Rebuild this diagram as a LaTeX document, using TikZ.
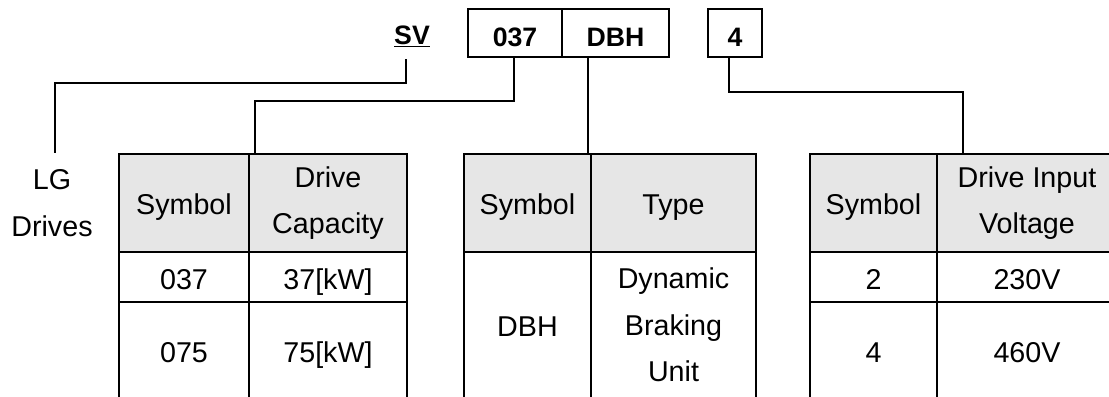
\documentclass[tikz,border=0pt]{standalone}
\usepackage{fontspec}
\setmainfont{Liberation Sans}
\usetikzlibrary{positioning,calc}

\definecolor{cel_gray}{HTML}{E6E6E6}

\begin{document}
\begin{tikzpicture}[x=0.75pt,y=-0.75pt]
        \tikzset{
            txt/.style={
                inner sep=0pt,
                align=center,
                font=\fontsize{21.5}{35}\selectfont
            },
            cel/.style={
                txt,
                text height=16pt,
                text depth=5.4pt
            },
            cod/.style={
                draw,
                line width=1.1pt,
                inner sep=0pt,
                outer sep=0pt,
                minimum height=36pt,
                text height=19.5pt,
                text depth=0pt,
                font=\fontsize{20}{35}\selectfont\bfseries
            },
            cab/.style={
                draw,
                fill=cel_gray,
                line width=1.5pt,
                outer sep=0pt,
                txt,
                execute at begin node=\rule{0pt}{1em},
                minimum width=#1,
                minimum height=73.5pt
            },
            lin/.style={line width=1pt},
            tab/.style={line width=1.5pt}
        }
        \useasboundingbox (0,0) rectangle (1109,396);
        \clip (0,0) rectangle (1109,396);

        %codigo
        \node[txt, anchor=base, font=\fontsize{20}{35}\selectfont\bfseries] (sv) at (412,44) {\underline{SV}};
        \node[cod, minimum width=70.5pt] (c037) at (515,33) {037};
        \node[cod, minimum width=80.25pt, right=0pt of c037] (dbh) {DBH};
        \node[cod, minimum width=40.5pt] (v4) at (735,33) {4};

        \node[txt] (lg) at (52,203) {LG\\Drives};

        %tabela 1
        \node[cab=97.5pt] (sym1) at (184,203) {Symbol};
        \node[cab=118.5pt, right=0pt of sym1] (cap) {Drive\\Capacity};
        \node[cel] (s037) at (184,282) {037};
        \node[cel] (k037) at (328,282) {37[kW]};
        \node[cel] (s075) at (184,355) {075};
        \node[cel] (k075) at (328,355) {75[kW]};

        %tabela 2
        \node[cab=95.25pt] (sym2) at (527.5,203) {Symbol};
        \node[cab=123.75pt, right=0pt of sym2] (tipo) {Type};
        \node[cel] (sdbh) at (527.5,329) {DBH};
        \node[txt] (tdbh) at (673.5,325) {Dynamic\\Braking\\Unit};

        %tabela 3
        \node[cab=95.25pt] (sym3) at (873.5,203) {Symbol};
        \node[cab=135pt, right=0pt of sym3] (volt) {Drive Input\\Voltage};
        \node[cel] (s2) at (873.5,282) {2};
        \node[cel] (v230) at (1027,282) {230V};
        \node[cel] (s4) at (873.5,355) {4};
        \node[cel] (v460) at (1027,355) {460V};

        %grade
        \coordinate (fim) at (0,400);
        \coordinate (lin1) at (0,302);
        \foreach \c in {sym1.south west, sym1.south east, cap.south east,
                        sym2.south west, sym2.south east, tipo.south east,
                        sym3.south west, sym3.south east}
            \draw[tab] (\c) -- (\c |- fim);
        \draw[tab] (sym1.south west |- lin1) -- (cap.south east |- lin1);
        \draw[tab] (sym3.south west |- lin1) -- (volt.south east |- lin1);

        %linhas
        \draw[lin] ($(sv.base)+(-6,15)$) -- ++(0,24) -| ($(lg.north)+(3,-16)$);
        \draw[lin] ($(c037.south)+(-1,0)$) -- ++(0,44) -| ($(cap.north west)+(6,0)$);
        \coordinate (d1) at ($(dbh.south west)+(26,0)$);
        \draw[lin] (d1) -- (d1 |- sym2.north);
        \draw[lin] ($(v4.south)+(-6,0)$) -- ++(0,35) -| ($(volt.north west)+(26,0)$);

\end{tikzpicture}
\end{document}
